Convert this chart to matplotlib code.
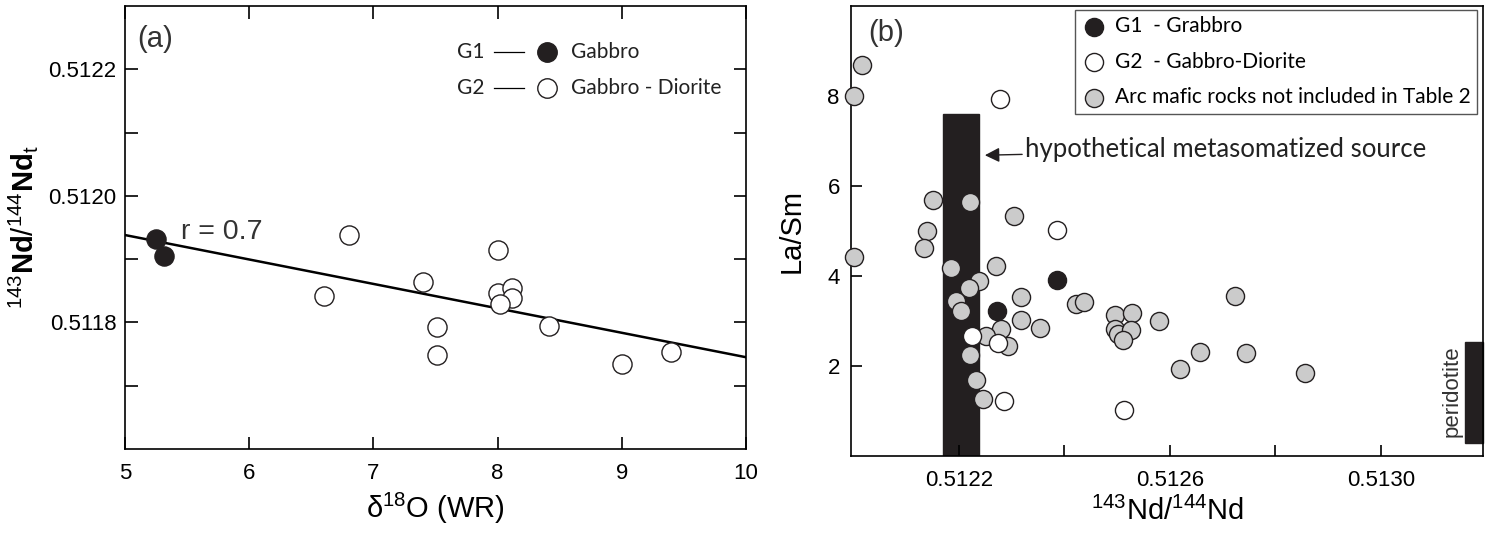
import matplotlib.pyplot as plt
from matplotlib.lines import Line2D
from matplotlib.patches import Rectangle
from matplotlib.ticker import MultipleLocator, FormatStrFormatter

plt.rcParams['font.family'] = ['Liberation Sans', 'DejaVu Sans']
plt.rcParams['mathtext.fontset'] = 'custom'
plt.rcParams['mathtext.rm'] = 'Liberation Sans'
plt.rcParams['mathtext.it'] = 'Liberation Sans:italic'
plt.rcParams['mathtext.bf'] = 'Liberation Sans:bold'

# ---- panel (a) data: d18O vs 143Nd/144Nd(t)
g1_d18o = [5.25, 5.31]
g1_nd_t = [0.511932, 0.511905]
g2_d18o = [6.80, 6.60, 7.40, 7.51, 7.51, 8.00, 8.00, 8.12, 8.12, 8.02, 8.41, 9.00, 9.40]
g2_nd_t = [0.511938, 0.511842, 0.511864, 0.511793, 0.511749, 0.511915, 0.511846,
           0.511855, 0.511839, 0.511829, 0.511794, 0.511734, 0.511754]
fit_x = [5.0, 10.0]
fit_y = [0.511938, 0.511745]

# ---- panel (b) data: 143Nd/144Nd vs La/Sm
b_g1_nd = [0.512386, 0.512272]
b_g1_lasm = [3.92, 3.23]
b_g2_nd = [0.512385, 0.512224, 0.512273, 0.512286, 0.512513, 0.512277]
b_g2_lasm = [5.03, 2.67, 2.52, 1.23, 1.03, 7.95]
arc_nd = [0.512151, 0.512220, 0.512140, 0.512133, 0.512001, 0.512305, 0.512184,
          0.512270, 0.512237, 0.512219, 0.512194, 0.512204, 0.512318, 0.512318,
          0.512353, 0.512421, 0.512437, 0.512279, 0.512252, 0.512293, 0.512221,
          0.512232, 0.512246, 0.512495, 0.512529, 0.512496, 0.512502, 0.512526,
          0.512512, 0.512580, 0.512658, 0.512620, 0.512016, 0.512001, 0.512724,
          0.512744, 0.512857]
arc_lasm = [5.70, 5.64, 5.00, 4.63, 4.43, 5.33, 4.19, 4.22, 3.90, 3.75, 3.46, 3.22,
            3.55, 3.03, 2.85, 3.39, 3.43, 2.82, 2.67, 2.45, 2.25, 1.69, 1.27, 3.13,
            3.19, 2.83, 2.72, 2.80, 2.59, 3.00, 2.31, 1.94, 8.69, 8.00, 3.57, 2.29,
            1.85]
source_nd = [0.512169, 0.512237]
source_lasm = [0.0, 7.61]
perid_nd = [0.513160, 0.513194]
perid_lasm = [0.30, 2.54]

black = '#231f20'
gray = '#cbcbcb'

fig = plt.figure(figsize=(14.94, 5.39), dpi=100)
ax1 = fig.add_axes([0.0837, 0.167, 0.4156, 0.822])
ax2 = fig.add_axes([0.5696, 0.1534, 0.4230, 0.835])

# ---------------- panel (a)
ax1.plot(fit_x, fit_y, color='black', lw=1.8, zorder=2)
ax1.scatter(g2_d18o, g2_nd_t, s=190, facecolors='white', edgecolors=black,
            linewidths=1.0, zorder=3)
ax1.scatter(g1_d18o, g1_nd_t, s=190, facecolors=black, edgecolors=black,
            linewidths=1.0, zorder=4)
ax1.set_xlim(5, 10)
ax1.set_ylim(0.5116, 0.5123)
ax1.xaxis.set_major_locator(MultipleLocator(1))
ax1.set_yticks([0.5118, 0.5120, 0.5122])
ax1.set_yticks([0.5117, 0.5119, 0.5121], minor=True)
ax1.yaxis.set_major_formatter(FormatStrFormatter('%.4f'))
ax1.tick_params(which='both', direction='in', top=True, right=True,
                length=9, width=1.2, labelsize=16)
ax1.tick_params(axis='x', pad=10)
ax1.tick_params(axis='y', pad=6)
for sp in ax1.spines.values():
    sp.set_linewidth(1.2)
ax1.set_xlabel(r'$\mathrm{\delta}^{18}$O (WR)', fontsize=21, labelpad=5)
ax1.set_ylabel(r'$^{143}\mathbf{Nd}/^{144}\mathbf{Nd}_{\mathrm{t}}$', fontsize=21,
               labelpad=6)
ax1.text(0.048, 0.925, '(a)', transform=ax1.transAxes, fontsize=21, color='#333333',
         ha='center', va='center')
ax1.text(0.09, 0.49, 'r = 0.7', transform=ax1.transAxes, fontsize=20.5, color='#333333',
         va='center')

# manual key for panel (a)
lab_font = dict(family=['Lato', 'DejaVu Sans'], fontsize=15, color='#222222', va='center')
for yy, grp, name, fc in [(0.896, 'G1', 'Gabbro', black), (0.815, 'G2', 'Gabbro - Diorite', 'white')]:
    ax1.text(0.535, yy, grp, transform=ax1.transAxes, **lab_font)
    ax1.add_line(Line2D([0.594, 0.643], [yy, yy], transform=ax1.transAxes,
                        color='black', lw=0.9))
    ax1.plot([0.679], [yy], 'o', transform=ax1.transAxes, ms=14,
             mfc=fc, mec=black, mew=1.0)
    ax1.text(0.719, yy, name, transform=ax1.transAxes, **lab_font)

# ---------------- panel (b)
ax2.add_patch(Rectangle((source_nd[0], source_lasm[0]), source_nd[1] - source_nd[0],
                        source_lasm[1] - source_lasm[0], color=black, zorder=1))
ax2.add_patch(Rectangle((perid_nd[0], perid_lasm[0]), perid_nd[1] - perid_nd[0],
                        perid_lasm[1] - perid_lasm[0], color=black, zorder=1,
                        clip_on=False))
ax2.scatter(arc_nd, arc_lasm, s=170, facecolors=gray, edgecolors=black,
            linewidths=1.0, zorder=3, clip_on=False,
            label='Arc mafic rocks not included in Table 2')
ax2.scatter(b_g2_nd, b_g2_lasm, s=170, facecolors='white', edgecolors=black,
            linewidths=1.0, zorder=4, clip_on=False, label='G2  - Gabbro-Diorite')
ax2.scatter(b_g1_nd, b_g1_lasm, s=170, facecolors=black, edgecolors=black,
            linewidths=1.0, zorder=5, clip_on=False, label='G1  - Grabbro')
ax2.set_xlim(0.511995, 0.513194)
ax2.set_ylim(0, 10)
ax2.set_xticks([0.5122, 0.5126, 0.5130])
ax2.set_xticks([0.5124, 0.5128], minor=True)
ax2.xaxis.set_major_formatter(FormatStrFormatter('%.4f'))
ax2.set_yticks([2, 4, 6, 8])
ax2.tick_params(which='both', direction='in', length=8, width=1.2, labelsize=16)
ax2.tick_params(axis='x', pad=10)
ax2.tick_params(axis='y', pad=8)
for sp in ax2.spines.values():
    sp.set_linewidth(1.2)
ax2.set_xlabel(r'$^{143}$Nd/$^{144}$Nd', fontsize=21, labelpad=4)
ax2.set_ylabel('La/Sm', fontsize=21, labelpad=16)
ax2.text(0.055, 0.94, '(b)', transform=ax2.transAxes, fontsize=21, color='#333333',
         ha='center', va='center')

ax2.annotate('hypothetical metasomatized source', xy=(0.512249, 6.69),
             xytext=(0.512325, 6.81), fontsize=18.5, family=['Lato', 'DejaVu Sans'],
             color='#222222', va='center',
             arrowprops=dict(arrowstyle='-|>', color=black, lw=1.0,
                             mutation_scale=22, shrinkA=0, shrinkB=0))
ax2.text(0.513136, 1.45, 'peridotite', rotation=90, fontsize=16, color='#333333',
         ha='center', va='center')

h, l = ax2.get_legend_handles_labels()
leg = ax2.legend(h[::-1], l[::-1], loc='upper right', bbox_to_anchor=(0.99, 0.992),
                 frameon=True, fancybox=False, edgecolor='#555555', framealpha=1,
                 borderpad=0.3, labelspacing=0.75, handletextpad=0.4,
                 borderaxespad=0, handlelength=1.2,
                 prop={'family': ['Lato', 'DejaVu Sans'], 'size': 15})
leg.get_frame().set_linewidth(1.0)

fig.savefig('out.png', dpi=100)
